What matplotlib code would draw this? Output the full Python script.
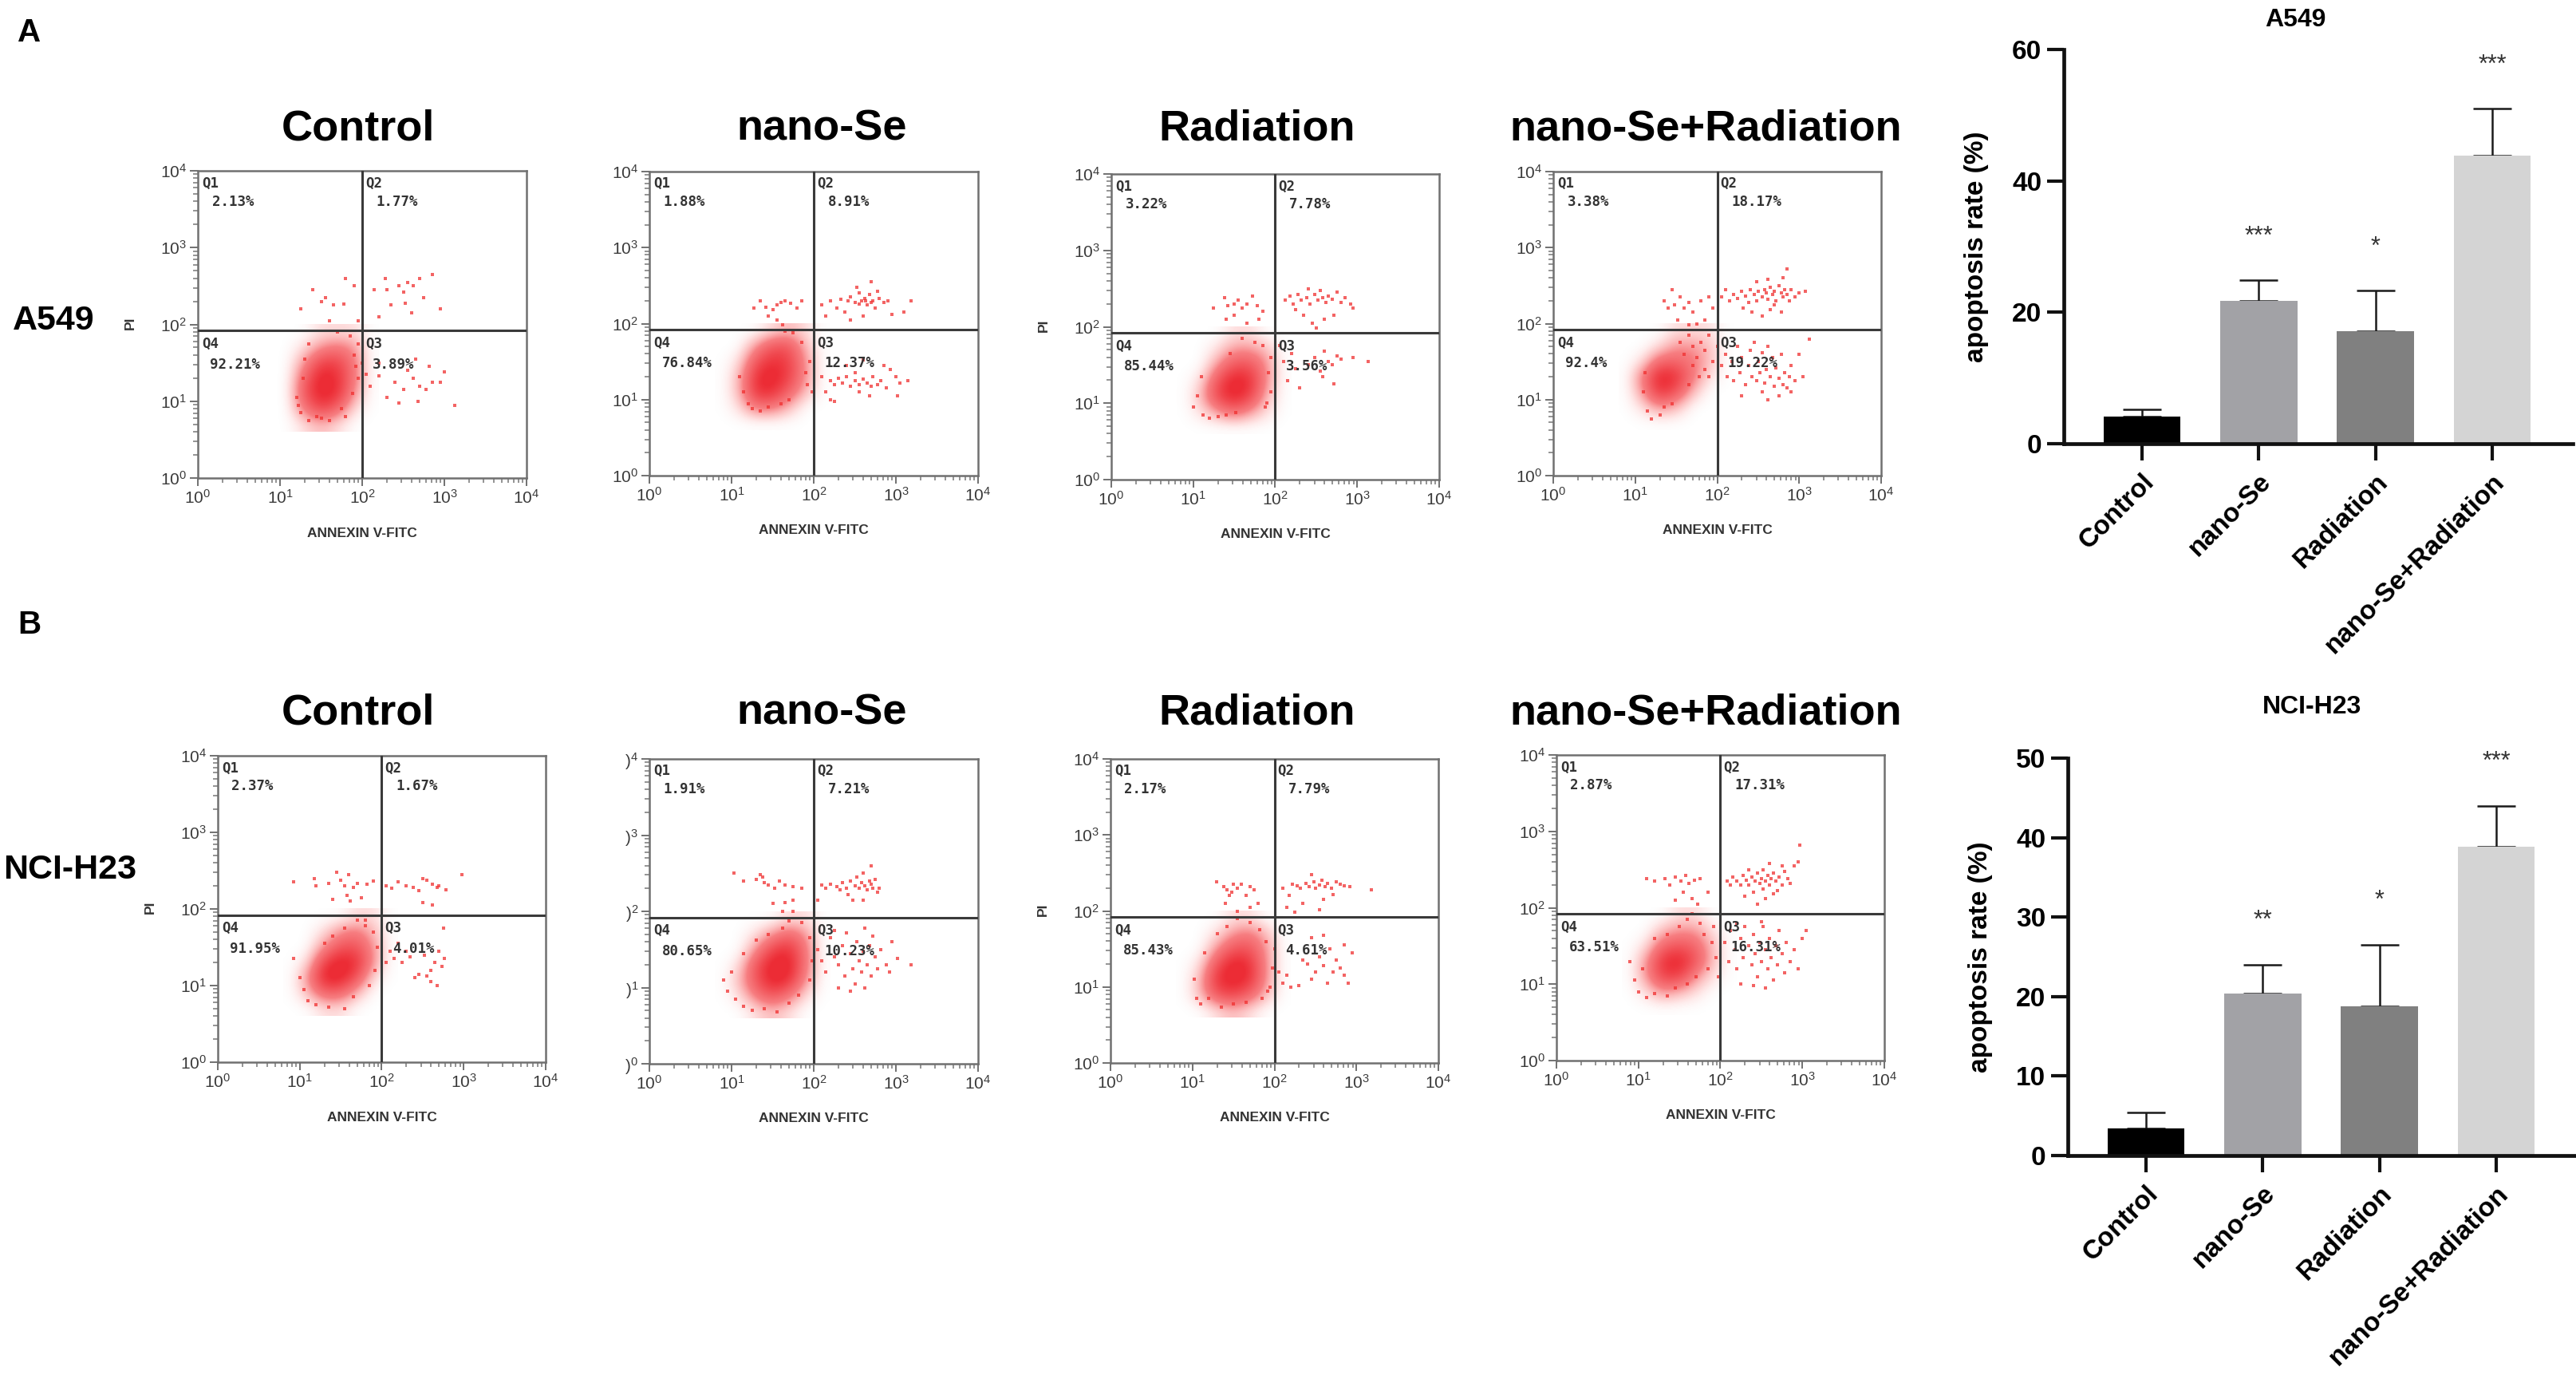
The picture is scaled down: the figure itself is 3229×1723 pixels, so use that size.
import numpy as np
import matplotlib
matplotlib.use("Agg")
import matplotlib.pyplot as plt
from matplotlib.colors import LinearSegmentedColormap

plt.rcParams["font.family"] = ["Liberation Sans", "DejaVu Sans"]
plt.rcParams["mathtext.fontset"] = "custom"
plt.rcParams["mathtext.rm"] = "Liberation Sans"
plt.rcParams["mathtext.it"] = "Liberation Sans:italic"
plt.rcParams["mathtext.bf"] = "Liberation Sans:bold"

W, H = 3230, 1723

# ---------------- data ----------------
conditions = ["Control", "nano-Se", "Radiation", "nano-Se+Radiation"]

# apoptosis rate bar charts (mean, upper SD)
a549_rate = [4.15, 21.8, 17.1, 43.8]
a549_err = [1.1, 3.1, 6.2, 7.2]
a549_sig = ["", "***", "*", "***"]
h23_rate = [3.4, 20.4, 18.8, 38.9]
h23_err = [2.05, 3.6, 7.7, 5.1]
h23_sig = ["", "**", "*", "***"]

# quadrant percentages (Q1, Q2, Q3, Q4)
a549_ctrl_pct = ["2.13%", "1.77%", "3.89%", "92.21%"]
a549_se_pct = ["1.88%", "8.91%", "12.37%", "76.84%"]
a549_rad_pct = ["3.22%", "7.78%", "3.56%", "85.44%"]
a549_comb_pct = ["3.38%", "18.17%", "19.22%", "92.4%"]
h23_ctrl_pct = ["2.37%", "1.67%", "4.01%", "91.95%"]
h23_se_pct = ["1.91%", "7.21%", "10.23%", "80.65%"]
h23_rad_pct = ["2.17%", "7.79%", "4.61%", "85.43%"]
h23_comb_pct = ["2.87%", "17.31%", "16.31%", "63.51%"]

# gates (log10 units)
gate_x = 2.0
gate_y = 1.92

# dense main population: event density on a 0.2-decade grid,
# x centres 0.9..2.1, y centres 0.7..1.9 (rows bottom -> top)
a549_ctrl_density = [
    [0, 0, 1, 2, 1, 0, 0],
    [0, 0, 4, 7, 5, 1, 0],
    [0, 0, 6, 9, 8, 3, 0],
    [0, 0, 5, 9, 8, 4, 0],
    [0, 0, 3, 7, 7, 4, 0],
    [0, 0, 1, 3, 4, 3, 0],
    [0, 0, 0, 1, 1, 1, 0]]
a549_se_density = [
    [0, 0, 0, 0, 0, 0, 0],
    [0, 1, 4, 4, 2, 0, 0],
    [0, 2, 8, 8, 5, 2, 0],
    [0, 2, 8, 9, 7, 3, 0],
    [0, 1, 6, 8, 7, 3, 0],
    [0, 0, 3, 6, 6, 2, 0],
    [0, 0, 0, 1, 2, 1, 0]]
a549_rad_density = [
    [0, 0, 0, 0, 0, 0, 0],
    [0, 1, 3, 5, 3, 1, 0],
    [0, 2, 7, 9, 7, 2, 0],
    [0, 1, 6, 9, 8, 3, 0],
    [0, 0, 3, 6, 6, 3, 0],
    [0, 0, 1, 3, 3, 2, 0],
    [0, 0, 0, 1, 1, 0, 0]]
a549_comb_density = [
    [0, 0, 0, 0, 0, 0, 0],
    [0, 1, 3, 2, 0, 0, 0],
    [0, 3, 8, 6, 2, 0, 0],
    [0, 4, 9, 8, 4, 1, 0],
    [0, 1, 5, 5, 4, 2, 0],
    [0, 0, 1, 3, 3, 2, 0],
    [0, 0, 0, 1, 1, 1, 0]]
h23_ctrl_density = [
    [0, 0, 1, 1, 0, 0, 0],
    [0, 2, 5, 5, 2, 0, 0],
    [0, 3, 9, 9, 6, 1, 0],
    [0, 1, 7, 9, 8, 3, 0],
    [0, 0, 3, 6, 6, 3, 0],
    [0, 0, 1, 3, 4, 2, 0],
    [0, 0, 0, 0, 1, 1, 0]]
h23_se_density = [
    [0, 0, 1, 2, 1, 0, 0],
    [0, 1, 4, 6, 4, 1, 0],
    [0, 2, 6, 9, 8, 3, 0],
    [0, 1, 6, 9, 9, 4, 0],
    [0, 0, 3, 7, 8, 4, 0],
    [0, 0, 1, 3, 5, 3, 0],
    [0, 0, 0, 0, 1, 1, 0]]
h23_rad_density = [
    [0, 0, 1, 2, 1, 0, 0],
    [0, 2, 6, 7, 5, 2, 0],
    [0, 2, 8, 9, 8, 3, 0],
    [0, 1, 6, 9, 8, 3, 0],
    [0, 0, 3, 6, 6, 3, 0],
    [0, 0, 1, 3, 4, 2, 0],
    [0, 0, 0, 1, 1, 0, 0]]
h23_comb_density = [
    [0, 0, 0, 0, 0, 0, 0],
    [0, 1, 3, 2, 1, 0, 0],
    [0, 3, 7, 7, 3, 1, 0],
    [0, 3, 8, 9, 6, 2, 0],
    [0, 1, 5, 6, 5, 2, 0],
    [0, 0, 2, 3, 3, 1, 0],
    [0, 0, 0, 1, 1, 0, 0]]

# sparse events (log10 Annexin V-FITC, log10 PI)
a549_ctrl_events = [
    (2.15, 2.45), (2.28, 2.6), (2.3, 2.45), (2.45, 2.5), (2.5, 2.42), (2.55, 2.55), (2.62, 2.5),
    (2.7, 2.6), (2.75, 2.35), (2.85, 2.65), (2.95, 2.2), (2.35, 2.25), (2.52, 2.28), (2.6, 2.15),
    (2.2, 2.1), (1.25, 2.2), (1.4, 2.45), (1.5, 2.3), (1.55, 2.35), (1.65, 2.25), (1.78, 2.27),
    (1.8, 2.6), (1.9, 2.5), (1.95, 2.05), (1.6, 2.05), (2.05, 1.35), (2.1, 1.2), (2.2, 1.33),
    (2.3, 1.05), (2.4, 1.25), (2.5, 1.15), (2.55, 1.4), (2.62, 1.3), (2.7, 1.2), (2.78, 1.15),
    (2.85, 1.25), (2.95, 1.25), (3.0, 1.38), (3.13, 0.95), (2.68, 1.0), (2.45, 0.98), (2.2, 1.5),
    (2.65, 1.55), (2.82, 1.45), (1.2, 1.05), (1.25, 0.85), (1.35, 0.75), (1.45, 0.8), (1.6, 0.75),
    (1.8, 0.8), (1.9, 1.6), (1.95, 1.75), (1.85, 1.85), (1.7, 1.9), (1.35, 1.75), (1.3, 1.55),
    (1.95, 1.3), (2.0, 1.5), (1.28, 1.3), (1.22, 0.95), (1.88, 1.1), (1.75, 0.9), (1.5, 0.78),
    (1.92, 1.45)]
a549_se_events = [
    (1.27, 2.2), (1.35, 2.3), (1.42, 2.22), (1.5, 2.18), (1.55, 2.25), (1.6, 2.28), (1.65, 2.3),
    (1.72, 2.27), (1.8, 2.2), (1.85, 2.3), (1.55, 2.05), (1.62, 1.98), (1.45, 2.1),
    (2.1, 2.25), (2.15, 2.1), (2.2, 2.3), (2.28, 2.2), (2.33, 2.32), (2.38, 2.15), (2.42, 2.3),
    (2.45, 2.35), (2.5, 2.28), (2.55, 2.4), (2.58, 2.3), (2.62, 2.33), (2.65, 2.25), (2.68, 2.38),
    (2.72, 2.3), (2.75, 2.2), (2.8, 2.33), (2.85, 2.28), (2.9, 2.3), (2.95, 2.12), (3.1, 2.15),
    (3.18, 2.3), (2.52, 2.48), (2.7, 2.55), (2.6, 2.1), (2.45, 2.05), (2.78, 2.42), (2.55, 2.26),
    (2.63, 2.3), (2.7, 2.28),
    (2.1, 1.3), (2.15, 1.1), (2.2, 1.25), (2.25, 1.2), (2.3, 1.28), (2.35, 1.22), (2.4, 1.3),
    (2.45, 1.18), (2.5, 1.25), (2.55, 1.2), (2.6, 1.27), (2.65, 1.22), (2.7, 1.18), (2.72, 1.3),
    (2.78, 1.2), (2.82, 1.25), (2.88, 1.15), (2.93, 1.4), (3.0, 1.3), (3.05, 1.22), (3.15, 1.25),
    (2.2, 1.0), (2.25, 0.98), (3.02, 1.05), (2.4, 1.45), (2.6, 1.52), (2.85, 1.45), (2.55, 1.1),
    (2.5, 1.35), (2.68, 1.05),
    (1.15, 1.1), (1.2, 0.95), (1.25, 0.88), (1.35, 0.85), (1.45, 0.9), (1.9, 1.35), (1.95, 1.5),
    (1.85, 1.75), (1.75, 1.88), (1.65, 1.9), (1.92, 1.2), (1.98, 1.1), (1.7, 1.0), (1.6, 0.95),
    (1.1, 1.3)]
a549_rad_events = [
    (1.25, 2.25), (1.38, 2.38), (1.42, 2.28), (1.5, 2.3), (1.55, 2.35), (1.6, 2.25), (1.65, 2.3),
    (1.72, 2.4), (1.78, 2.28), (1.85, 2.2), (1.4, 2.1), (1.5, 2.15), (1.65, 2.05), (1.8, 2.1),
    (2.12, 2.35), (2.18, 2.4), (2.22, 2.3), (2.28, 2.42), (2.32, 2.35), (2.38, 2.38), (2.42, 2.3),
    (2.48, 2.42), (2.52, 2.35), (2.58, 2.38), (2.62, 2.32), (2.65, 2.4), (2.7, 2.36), (2.75, 2.45),
    (2.8, 2.32), (2.85, 2.38), (2.92, 2.3), (2.95, 2.25), (2.4, 2.5), (2.55, 2.48), (2.35, 2.15),
    (2.45, 2.05), (2.6, 2.1), (2.5, 1.98), (2.72, 2.15), (2.25, 2.22),
    (2.1, 1.55), (2.15, 1.3), (2.2, 1.65), (2.25, 1.45), (2.3, 1.2), (2.4, 1.5), (2.48, 1.6),
    (2.55, 1.42), (2.6, 1.68), (2.65, 1.55), (2.7, 1.5), (2.75, 1.62), (2.8, 1.58), (2.72, 1.25),
    (2.95, 1.6), (3.13, 1.55), (2.05, 1.75), (2.58, 1.35),
    (1.0, 0.95), (1.05, 1.1), (1.12, 0.85), (1.2, 0.8), (1.3, 0.82), (1.4, 0.85), (1.52, 0.88),
    (1.9, 1.0), (1.95, 1.15), (1.92, 1.4), (1.95, 1.6), (1.85, 1.75), (1.75, 1.8), (1.6, 1.85),
    (1.45, 1.65), (1.1, 1.35), (1.88, 0.95)]
a549_comb_events = [
    (1.35, 2.3), (1.4, 2.2), (1.48, 2.25), (1.55, 2.35), (1.6, 2.2), (1.65, 2.28), (1.7, 2.15),
    (1.75, 2.0), (1.8, 2.3), (1.85, 2.05), (1.9, 2.35), (1.52, 2.05), (1.65, 1.98), (1.45, 2.45),
    (1.95, 2.2),
    (2.05, 2.35), (2.1, 2.45), (2.15, 2.3), (2.2, 2.38), (2.25, 2.33), (2.3, 2.42), (2.35, 2.36),
    (2.38, 2.28), (2.4, 2.45), (2.45, 2.38), (2.48, 2.3), (2.5, 2.42), (2.55, 2.35), (2.58, 2.45),
    (2.6, 2.4), (2.62, 2.32), (2.65, 2.48), (2.68, 2.38), (2.7, 2.42), (2.72, 2.3), (2.75, 2.5),
    (2.78, 2.4), (2.8, 2.35), (2.82, 2.45), (2.85, 2.38), (2.88, 2.3), (2.9, 2.45), (2.95, 2.35),
    (3.0, 2.4), (3.08, 2.42), (2.42, 2.15), (2.55, 2.1), (2.65, 2.18), (2.78, 2.15), (2.62, 2.58),
    (2.8, 2.6), (2.85, 2.72), (2.32, 2.2), (2.48, 2.55), (2.7, 2.25),
    (2.05, 1.45), (2.1, 1.6), (2.12, 1.3), (2.18, 1.5), (2.2, 1.25), (2.25, 1.7), (2.28, 1.35),
    (2.3, 1.55), (2.35, 1.2), (2.38, 1.45), (2.4, 1.65), (2.42, 1.3), (2.45, 1.75), (2.48, 1.25),
    (2.5, 1.5), (2.52, 1.35), (2.55, 1.62), (2.58, 1.22), (2.6, 1.4), (2.62, 1.7), (2.65, 1.3),
    (2.68, 1.55), (2.7, 1.18), (2.72, 1.42), (2.75, 1.28), (2.78, 1.6), (2.8, 1.2), (2.82, 1.35),
    (2.85, 1.15), (2.88, 1.3), (2.9, 1.45), (2.95, 1.25), (3.0, 1.6), (3.05, 1.3), (3.12, 1.8),
    (2.3, 1.05), (2.55, 1.1), (2.75, 1.05), (2.9, 1.1), (2.62, 1.0),
    (1.15, 0.85), (1.2, 0.75), (1.3, 0.8), (1.35, 0.9), (1.45, 0.95), (1.1, 1.1), (1.12, 1.35),
    (1.6, 1.6), (1.7, 1.7), (1.75, 1.55), (1.8, 1.75), (1.85, 1.65), (1.9, 1.85), (1.95, 1.5),
    (2.0, 1.7), (1.65, 1.85), (1.55, 1.75), (1.85, 1.4), (1.7, 1.45), (1.9, 1.3), (1.78, 1.3),
    (1.65, 1.2)]
h23_ctrl_events = [
    (0.92, 2.35), (1.18, 2.4), (1.2, 2.3), (1.35, 2.33), (1.45, 2.48), (1.5, 2.38), (1.55, 2.3),
    (1.6, 2.45), (1.65, 2.28), (1.7, 2.33), (1.82, 2.32), (1.9, 2.36), (1.4, 2.12), (1.58, 2.18),
    (1.75, 2.15), (1.62, 2.1),
    (2.05, 2.3), (2.12, 2.27), (2.2, 2.35), (2.3, 2.3), (2.38, 2.28), (2.45, 2.24), (2.5, 2.4),
    (2.55, 2.38), (2.62, 2.32), (2.68, 2.28), (2.7, 2.3), (2.78, 2.25), (2.98, 2.45), (2.5, 2.08),
    (2.62, 2.05),
    (2.05, 1.3), (2.1, 1.45), (2.15, 1.35), (2.2, 1.55), (2.25, 1.3), (2.3, 1.45), (2.35, 1.38),
    (2.4, 1.1), (2.45, 1.15), (2.52, 1.4), (2.55, 1.12), (2.6, 1.05), (2.65, 1.3), (2.7, 1.45),
    (2.73, 1.25), (2.75, 1.75), (2.76, 1.35), (2.68, 1.0), (2.6, 1.2),
    (0.92, 1.35), (1.0, 1.1), (1.05, 0.95), (1.1, 0.8), (1.2, 0.75), (1.35, 0.72), (1.55, 0.7),
    (1.4, 1.65), (1.3, 1.55), (1.55, 1.75), (1.7, 1.85), (1.8, 1.78), (1.9, 1.7), (1.95, 1.5),
    (1.92, 1.2), (1.85, 1.0), (1.65, 0.85), (1.8, 1.85)]
h23_se_events = [
    (1.03, 2.5), (1.15, 2.4), (1.3, 2.42), (1.35, 2.48), (1.4, 2.38), (1.45, 2.35), (1.52, 2.3),
    (1.58, 2.4), (1.65, 2.35), (1.75, 2.32), (1.85, 2.3), (1.38, 2.45), (1.5, 2.1), (1.65, 2.12),
    (1.75, 2.15),
    (2.05, 2.15), (2.1, 2.35), (2.15, 2.3), (2.2, 2.36), (2.28, 2.32), (2.32, 2.28), (2.35, 2.38),
    (2.4, 2.3), (2.42, 2.22), (2.45, 2.4), (2.5, 2.33), (2.52, 2.45), (2.55, 2.3), (2.58, 2.38),
    (2.6, 2.5), (2.62, 2.34), (2.65, 2.28), (2.68, 2.4), (2.7, 2.36), (2.72, 2.3), (2.75, 2.42),
    (2.8, 2.3), (2.6, 2.15), (2.48, 2.15), (2.7, 2.6), (2.78, 2.25),
    (2.05, 1.5), (2.1, 1.35), (2.15, 1.2), (2.2, 1.65), (2.25, 1.4), (2.3, 1.3), (2.35, 1.55),
    (2.38, 1.15), (2.4, 1.72), (2.45, 1.45), (2.48, 1.25), (2.5, 1.05), (2.52, 1.6), (2.55, 1.35),
    (2.58, 1.2), (2.6, 1.48), (2.62, 1.0), (2.65, 1.3), (2.68, 1.55), (2.7, 1.15), (2.72, 1.68),
    (2.75, 1.4), (2.78, 1.25), (2.82, 1.5), (2.88, 1.3), (2.92, 1.2), (2.95, 1.6), (3.02, 1.38),
    (3.18, 1.3), (2.3, 1.0), (2.45, 0.95), (2.25, 1.75), (2.62, 1.78),
    (0.9, 1.1), (0.95, 0.95), (1.0, 1.2), (1.05, 0.85), (1.15, 0.75), (1.25, 0.7), (1.4, 0.72),
    (1.55, 0.68), (1.7, 0.8), (1.82, 0.9), (1.95, 1.1), (1.98, 1.35), (1.95, 1.65), (1.85, 1.85),
    (1.7, 1.87), (1.62, 1.78), (1.45, 1.7), (1.3, 1.62), (1.15, 1.45), (1.75, 2.0), (1.62, 2.0)]
h23_rad_events = [
    (1.29, 2.38), (1.38, 2.32), (1.42, 2.28), (1.45, 2.2), (1.5, 2.35), (1.55, 2.3), (1.6, 2.35),
    (1.65, 2.2), (1.7, 2.32), (1.75, 2.28), (1.8, 2.1), (1.4, 2.1), (1.55, 2.0), (1.7, 2.05),
    (1.48, 2.25),
    (2.1, 2.3), (2.15, 2.05), (2.18, 2.2), (2.22, 2.35), (2.28, 2.33), (2.32, 2.3), (2.38, 2.36),
    (2.42, 2.32), (2.48, 2.38), (2.5, 2.3), (2.55, 2.34), (2.58, 2.4), (2.62, 2.32), (2.65, 2.36),
    (2.7, 2.3), (2.75, 2.38), (2.8, 2.35), (2.85, 2.33), (2.92, 2.32), (3.18, 2.28), (2.45, 2.48),
    (2.6, 2.15), (2.35, 2.1), (2.55, 2.02), (2.72, 2.22), (2.25, 1.98),
    (2.05, 1.2), (2.1, 1.05), (2.15, 1.15), (2.2, 1.0), (2.3, 1.02), (2.35, 1.35), (2.4, 1.3),
    (2.45, 1.1), (2.5, 1.2), (2.55, 1.4), (2.6, 1.28), (2.65, 1.05), (2.68, 1.5), (2.72, 1.2),
    (2.75, 1.35), (2.8, 1.25), (2.85, 1.15), (2.9, 1.05), (2.95, 1.45), (2.45, 1.65), (2.6, 1.68),
    (2.85, 1.55),
    (1.02, 1.1), (1.05, 0.85), (1.1, 0.78), (1.2, 0.85), (1.35, 0.74), (1.5, 0.78), (1.65, 0.8),
    (1.85, 0.85), (1.95, 1.0), (1.98, 1.25), (2.0, 1.5), (1.9, 1.6), (1.82, 1.75), (1.7, 1.85),
    (1.55, 1.9), (1.42, 1.8), (1.3, 1.7), (1.15, 1.45), (1.92, 0.95)]
h23_comb_events = [
    (1.1, 2.38), (1.2, 2.35), (1.32, 2.38), (1.38, 2.3), (1.45, 2.4), (1.52, 2.35), (1.58, 2.42),
    (1.62, 2.32), (1.68, 2.36), (1.75, 2.38), (1.55, 2.2), (1.45, 2.1), (1.65, 2.12), (1.72, 2.05),
    (1.85, 2.2),
    (2.08, 2.35), (2.12, 2.3), (2.15, 2.4), (2.2, 2.35), (2.25, 2.3), (2.28, 2.42), (2.32, 2.36),
    (2.35, 2.3), (2.38, 2.4), (2.42, 2.35), (2.45, 2.45), (2.48, 2.32), (2.5, 2.38), (2.52, 2.5),
    (2.55, 2.35), (2.58, 2.42), (2.6, 2.3), (2.62, 2.38), (2.65, 2.45), (2.68, 2.35), (2.72, 2.4),
    (2.75, 2.3), (2.78, 2.48), (2.82, 2.38), (2.85, 2.32), (2.9, 2.55), (2.95, 2.6), (2.97, 2.82),
    (2.3, 2.15), (2.45, 2.05), (2.55, 2.12), (2.65, 2.18), (2.4, 2.2), (2.7, 2.22), (2.6, 2.58),
    (2.52, 2.25), (2.75, 2.55), (2.35, 2.5),
    (2.05, 1.55), (2.1, 1.3), (2.12, 1.7), (2.18, 1.45), (2.2, 1.2), (2.25, 1.6), (2.28, 1.35),
    (2.3, 1.75), (2.35, 1.5), (2.38, 1.25), (2.4, 1.65), (2.42, 1.4), (2.45, 1.1), (2.48, 1.55),
    (2.5, 1.3), (2.52, 1.75), (2.55, 1.45), (2.58, 1.2), (2.6, 1.6), (2.62, 1.35), (2.65, 1.05),
    (2.68, 1.5), (2.7, 1.25), (2.72, 1.7), (2.75, 1.4), (2.78, 1.15), (2.8, 1.55), (2.85, 1.3),
    (2.9, 1.45), (2.95, 1.2), (3.0, 1.6), (3.05, 1.7), (2.25, 1.0), (2.4, 0.98), (2.55, 0.95),
    (2.2, 1.8), (2.5, 1.82),
    (0.9, 1.3), (0.95, 1.05), (1.0, 0.9), (1.05, 1.2), (1.1, 0.82), (1.2, 0.88), (1.35, 0.85),
    (1.45, 0.95), (1.6, 1.0), (1.7, 1.1), (1.85, 1.2), (1.95, 1.35), (1.9, 1.55), (1.8, 1.65),
    (1.75, 1.8), (1.6, 1.85), (1.5, 1.75), (1.35, 1.65), (1.2, 1.6), (1.98, 1.1), (1.92, 1.75),
    (1.65, 1.92)]

# ---------------- layout (pixel boxes: left, right, top, bottom) ----------------
boxes_a = [(248, 660, 214, 599), (814, 1226, 215, 596), (1393, 1804, 218, 601), (1947, 2358, 215, 596)]
boxes_b = [(273, 684, 947, 1331), (814, 1226, 951, 1333), (1392, 1803, 951, 1332), (1951, 2362, 946, 1329)]
title_x = [449, 1030, 1576, 2138]

bar_colors = ["#000000", "#a2a2a6", "#808080", "#d4d4d4"]
core_cmap = LinearSegmentedColormap.from_list(
    "core", [(0.0, (1.0, 0.4, 0.4, 0.0)),
             (0.15, (0.98, 0.3, 0.3, 0.22)),
             (0.45, (0.95, 0.18, 0.2, 0.62)),
             (1.0, (0.92, 0.06, 0.1, 0.88))])


def rect(box):
    l, r, t, b = box
    return [l / W, 1 - b / H, (r - l) / W, (b - t) / H]


def draw_flow(ax, events, density, pct, show_pi, cut_labels=False):
    ax.imshow(np.array(density, float), extent=(0.8, 2.2, 0.6, 2.0), origin="lower",
              cmap=core_cmap, vmin=0, vmax=8, interpolation="bicubic", aspect="auto", zorder=1)
    ev = np.array(events)
    ax.scatter(ev[:, 0], ev[:, 1], s=5, marker="s", color="#f03030", alpha=0.75,
               linewidths=0, zorder=2)
    ax.axvline(gate_x, color="#3a3a3a", lw=2.2, zorder=3)
    ax.axhline(gate_y, color="#3a3a3a", lw=2.2, zorder=3)
    ax.set_xlim(0, 4)
    ax.set_ylim(0, 4)

    minor = [k + np.log10(m) for k in range(4) for m in range(2, 10)]
    ax.set_xticks(range(5))
    ax.set_yticks(range(5))
    ax.set_xticks(minor, minor=True)
    ax.set_yticks(minor, minor=True)
    ax.set_xticklabels([f"$10^{{{k}}}$" for k in range(5)])
    if cut_labels:
        ax.set_yticklabels([f"$)^{{{k}}}$" for k in range(5)])
    else:
        ax.set_yticklabels([f"$10^{{{k}}}$" for k in range(5)])
    ax.tick_params(which="major", length=7, width=1.3, color="#666666",
                   labelsize=15, labelcolor="#3a3a3a", pad=3)
    ax.tick_params(which="minor", length=4, width=1.1, color="#777777")
    for sp in ax.spines.values():
        sp.set_color("#707070")
        sp.set_linewidth(1.8)

    qfont = dict(fontsize=12.5, fontweight="bold", family="DejaVu Sans Mono",
                 color="#333333", va="center", ha="left", zorder=4)
    ax.text(0.05, 3.84, "Q1", **qfont)
    ax.text(0.17, 3.6, pct[0], **qfont)
    ax.text(2.04, 3.84, "Q2", **qfont)
    ax.text(2.17, 3.6, pct[1], **qfont)
    ax.text(2.04, 1.75, "Q3", **qfont)
    ax.text(2.13, 1.48, pct[2], **qfont)
    ax.text(0.05, 1.75, "Q4", **qfont)
    ax.text(0.15, 1.48, pct[3], **qfont)

    ax.text(0.5, -0.18, "ANNEXIN V-FITC", transform=ax.transAxes, ha="center", va="center",
            fontsize=12.5, fontweight="bold", color="#333333")
    if show_pi:
        ax.text(-0.205, 0.505, "PI", transform=ax.transAxes, ha="center", va="center",
                rotation=90, fontsize=12.5, fontweight="bold", color="#333333")


def draw_bars(ax, rates, errs, sig, ymax, step, title, title_pos):
    x = np.arange(len(conditions))
    ax.bar(x, rates, width=0.66, color=bar_colors, zorder=2)
    ax.errorbar(x, rates, yerr=[np.zeros(len(errs)), errs], fmt="none", ecolor="#1a1a1a",
                elinewidth=1.8, capsize=17, capthick=1.8, zorder=1)
    for xi, r, e, s in zip(x, rates, errs, sig):
        if s:
            ax.text(xi, r + e + 0.11 * ymax, s, ha="center", va="center",
                    fontsize=22, color="#333333")
    ax.set_xlim(-0.67, 3.69)
    ax.set_ylim(0, ymax)
    ax.set_yticks(np.arange(0, ymax + 1, step))
    ax.set_xticks(x)
    ax.set_xticklabels(conditions, rotation=45, ha="right", va="top",
                       rotation_mode="anchor", fontsize=25, fontweight="bold")
    for lab in ax.get_yticklabels():
        lab.set_fontweight("bold")
    ax.tick_params(axis="both", length=15, width=3, color="#111111", labelsize=24, pad=5)
    ax.tick_params(axis="x", pad=8)
    ax.spines["top"].set_visible(False)
    ax.spines["right"].set_visible(False)
    for side in ("left", "bottom"):
        ax.spines[side].set_linewidth(3.4)
        ax.spines[side].set_color("#111111")
    ax.set_ylabel("apoptosis rate (%)", fontsize=24, fontweight="bold")
    ax.yaxis.set_label_coords(-0.148, 0.5)
    ax.text(title_pos[0], title_pos[1], title, transform=ax.transAxes, ha="center",
            va="center", fontsize=23, fontweight="bold")


fig = plt.figure(figsize=(W / 100, H / 100), dpi=100)
fig.patch.set_facecolor("white")

row_a = [(a549_ctrl_events, a549_ctrl_density, a549_ctrl_pct),
         (a549_se_events, a549_se_density, a549_se_pct),
         (a549_rad_events, a549_rad_density, a549_rad_pct),
         (a549_comb_events, a549_comb_density, a549_comb_pct)]
row_b = [(h23_ctrl_events, h23_ctrl_density, h23_ctrl_pct),
         (h23_se_events, h23_se_density, h23_se_pct),
         (h23_rad_events, h23_rad_density, h23_rad_pct),
         (h23_comb_events, h23_comb_density, h23_comb_pct)]

for row, boxes, title_y, row_key in [(row_a, boxes_a, 161, "a"), (row_b, boxes_b, 894, "b")]:
    for i, ((ev, dens, pct), box) in enumerate(zip(row, boxes)):
        ax = fig.add_axes(rect(box))
        draw_flow(ax, ev, dens, pct, show_pi=(i in (0, 2)),
                  cut_labels=(row_key == "b" and i == 1))
        fig.text(title_x[i] / W, 1 - title_y / H, conditions[i], ha="center", va="center",
                 fontsize=39, fontweight="bold")

ax_a = fig.add_axes(rect((2587, 3225, 62, 556)))
draw_bars(ax_a, a549_rate, a549_err, a549_sig, 60, 20, "A549", (0.455, 1.075))
ax_b = fig.add_axes(rect((2592, 3230, 950, 1448)))
draw_bars(ax_b, h23_rate, h23_err, h23_sig, 50, 10, "NCI-H23", (0.48, 1.128))

fig.text(37 / W, 1 - 41 / H, "A", ha="center", va="center", fontsize=29, fontweight="bold")
fig.text(37 / W, 1 - 783 / H, "B", ha="center", va="center", fontsize=29, fontweight="bold")
fig.text(16 / W, 1 - 402 / H, "A549", ha="left", va="center", fontsize=31, fontweight="bold")
fig.text(4 / W, 1 - 1090 / H, "NCI-H23", ha="left", va="center", fontsize=31, fontweight="bold")

fig.savefig("out.png", dpi=100, facecolor="white")
